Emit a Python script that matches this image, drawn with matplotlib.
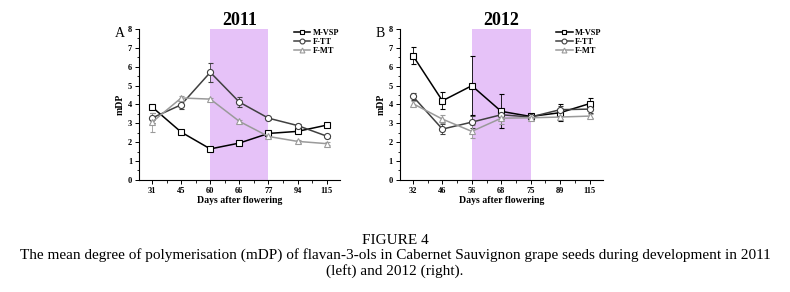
import matplotlib
matplotlib.use("Agg")
from matplotlib import pyplot as plt
from matplotlib.ticker import MultipleLocator

plt.rcParams['font.family'] = ['Liberation Serif', 'DejaVu Serif']

series = ["M-VSP", "F-TT", "F-MT"]

days_2011 = ["31", "45", "60", "66", "77", "94", "115"]
vsp_2011 = [3.86, 2.53, 1.64, 1.95, 2.46, 2.57, 2.9]
vsp_2011_err = [0.1, 0.08, 0.06, 0.08, 0.1, 0.08, 0.1]
tt_2011 = [3.28, 3.98, 5.7, 4.12, 3.27, 2.88, 2.32]
tt_2011_err = [0.25, 0.25, 0.5, 0.25, 0.08, 0.08, 0.08]
mt_2011 = [3.06, 4.34, 4.28, 3.1, 2.3, 2.04, 1.92]
mt_2011_err = [0.5, 0.1, 0.08, 0.08, 0.08, 0.08, 0.08]

days_2012 = ["32", "46", "56", "68", "75", "89", "115"]
vsp_2012 = [6.58, 4.19, 4.99, 3.63, 3.36, 3.56, 4.04]
vsp_2012_err = [0.45, 0.45, 1.55, 0.9, 0.15, 0.45, 0.3]
tt_2012 = [4.42, 2.69, 3.06, 3.45, 3.33, 3.72, 3.75]
tt_2012_err = [0.2, 0.25, 0.3, 0.2, 0.15, 0.2, 0.2]
mt_2012 = [4.04, 3.22, 2.57, 3.27, 3.29, 3.33, 3.38]
mt_2012_err = [0.15, 0.2, 0.35, 0.3, 0.1, 0.1, 0.1]

colors = ["#000000", "#404040", "#9a9a9a"]
markers = ["s", "o", "^"]

fig = plt.figure(figsize=(7.9, 2.92), dpi=100)


def panel(rect, days, values, errs, shade, year, letter):
    ax = fig.add_axes(rect)
    x = list(range(len(days)))
    ax.axvspan(shade[0], shade[1], ymin=0, ymax=1, color="#e6c2f8", lw=0, zorder=0)
    handles = []
    for ys, es, c, m, name in zip(values, errs, colors, markers, series):
        eb = ax.errorbar(x, ys, yerr=es, color=c, marker=m, ms=4.4, mfc="white",
                         mec=c, mew=0.8, lw=1.1, elinewidth=0.6, capsize=1.8,
                         capthick=0.6, ecolor=c, label=name, zorder=3)
        handles.append(eb[0])
    ax.set_xlim(-0.45, len(days) - 0.55)
    ax.set_ylim(0, 8)
    ax.set_xticks(x)
    ax.set_xticklabels(days)
    ax.xaxis.set_minor_locator(MultipleLocator(0.5))
    ax.yaxis.set_major_locator(MultipleLocator(1))
    ax.yaxis.set_minor_locator(MultipleLocator(0.5))
    ax.spines["top"].set_visible(False)
    ax.spines["right"].set_visible(False)
    for s in ("left", "bottom"):
        ax.spines[s].set_linewidth(0.8)
    ax.tick_params(which="major", direction="out", length=3, width=0.7,
                   labelsize=6, pad=2)
    ax.tick_params(which="minor", direction="out", length=1.8, width=0.6)
    for lab in ax.get_xticklabels() + ax.get_yticklabels():
        lab.set_fontweight("bold")
    ax.set_xlabel("Days after flowering", fontsize=7, fontweight="bold", labelpad=1)
    ax.set_ylabel("mDP", fontsize=7, fontweight="bold", labelpad=2)
    ax.set_title(year, fontsize=13, fontweight="bold", pad=-2)
    ax.text(-0.095, 0.97, letter, transform=ax.transAxes, fontsize=10,
            ha="center", va="center")
    leg = ax.legend(handles, series, loc="upper left", bbox_to_anchor=(0.77, 1.0),
                    frameon=False, fontsize=6, handlelength=2.0,
                    handletextpad=0.3, labelspacing=0.15, borderpad=0.0,
                    borderaxespad=0.0, markerscale=0.8)
    for t in leg.get_texts():
        t.set_fontweight("bold")
    return ax


panel([0.176, 0.384, 0.254, 0.517], days_2011,
      [vsp_2011, tt_2011, mt_2011], [vsp_2011_err, tt_2011_err, mt_2011_err],
      (2, 4), "2011", "A")
panel([0.506, 0.384, 0.257, 0.517], days_2012,
      [vsp_2012, tt_2012, mt_2012], [vsp_2012_err, tt_2012_err, mt_2012_err],
      (2, 4), "2012", "B")

fig.text(0.5, 1 - 240 / 292, "FIGURE 4", ha="center", va="center", fontsize=11)
fig.text(0.5, 1 - 255.5 / 292,
         "The mean degree of polymerisation (mDP) of flavan-3-ols in Cabernet "
         "Sauvignon grape seeds during development in 2011",
         ha="center", va="center", fontsize=11)
fig.text(0.5, 1 - 271 / 292, "(left) and 2012 (right).", ha="center",
         va="center", fontsize=11)

fig.savefig("out.png", dpi=100)
